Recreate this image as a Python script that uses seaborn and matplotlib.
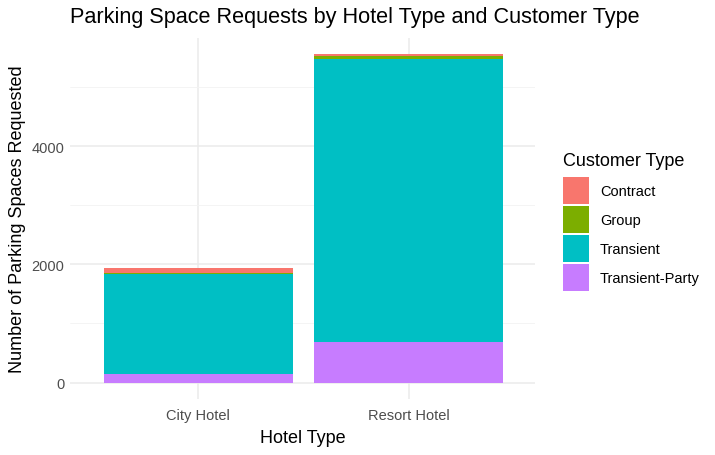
import numpy as np
import pandas as pd
import matplotlib
matplotlib.use("Agg")
import matplotlib.pyplot as plt
import seaborn as sns

hotels = ["City Hotel", "Resort Hotel"]
customer_types = ["Contract", "Group", "Transient", "Transient-Party"]
contract = [85, 33]
group = [14, 51]
transient = [1694, 4782]
transient_party = [144, 685]
palette = ["#F8766D", "#7CAE00", "#00BFC4", "#C77CFF"]

rows = []
for i, h in enumerate(hotels):
    for ct, vals in zip(customer_types, [contract, group, transient, transient_party]):
        rows.append({"Hotel Type": h, "Customer Type": ct, "count": vals[i]})
df = pd.DataFrame(rows)

sns.set_style("white")
plt.rcParams["font.family"] = ["Liberation Sans", "DejaVu Sans"]
plt.rcParams["text.color"] = "black"
plt.rcParams["axes.labelcolor"] = "black"

fig = plt.figure(figsize=(7.15, 4.56), dpi=100)
ax = fig.add_axes([70 / 715, 56 / 456, 465 / 715, 361 / 456])

sns.histplot(data=df, x="Hotel Type", weights="count", hue="Customer Type",
             hue_order=customer_types, palette=palette, multiple="stack",
             discrete=True, shrink=0.9, alpha=1, linewidth=0, ax=ax)

total = max(np.array(contract) + group + np.array(transient) + transient_party)
ax.set_ylim(-0.05 * total, 1.05 * total)
ax.set_xlim(-0.61, 1.6)
ax.set_xticks([0, 1])
ax.set_xticklabels(hotels)
ax.set_yticks([0, 2000, 4000])
ax.set_yticks([1000, 3000, 5000], minor=True)
ax.grid(True, which="major", color="#EBEBEB", linewidth=1.1)
ax.grid(True, which="minor", axis="y", color="#F3F3F3", linewidth=0.6)
ax.set_axisbelow(True)
for s in ax.spines.values():
    s.set_visible(False)
ax.tick_params(axis="both", which="both", length=0, labelsize=10.5, labelcolor="#4D4D4D")
ax.tick_params(axis="x", pad=6.5)
ax.tick_params(axis="y", pad=4)

ax.set_xlabel("Hotel Type", fontsize=13, labelpad=5, color="black")
ax.set_ylabel("Number of Parking Spaces Requested", fontsize=13, labelpad=4, color="black")
fig.text(70 / 715, 1 - 18 / 456, "Parking Space Requests by Hotel Type and Customer Type",
         fontsize=15.6, va="center", ha="left", color="black")

sns.move_legend(ax, loc="upper left", bbox_to_anchor=(550 / 715, 1 - 140 / 456),
                bbox_transform=fig.transFigure, frameon=False, title="Customer Type",
                fontsize=10.5, title_fontsize=13, handlelength=1.78, handleheight=2.47,
                labelspacing=0.14, handletextpad=0.75)
leg = ax.get_legend()
leg._legend_box.align = "left"
leg._legend_box.sep = 5.8
leg.get_title().set_color("black")
for t in leg.get_texts():
    t.set_color("black")

fig.savefig("out.png", dpi=100)
